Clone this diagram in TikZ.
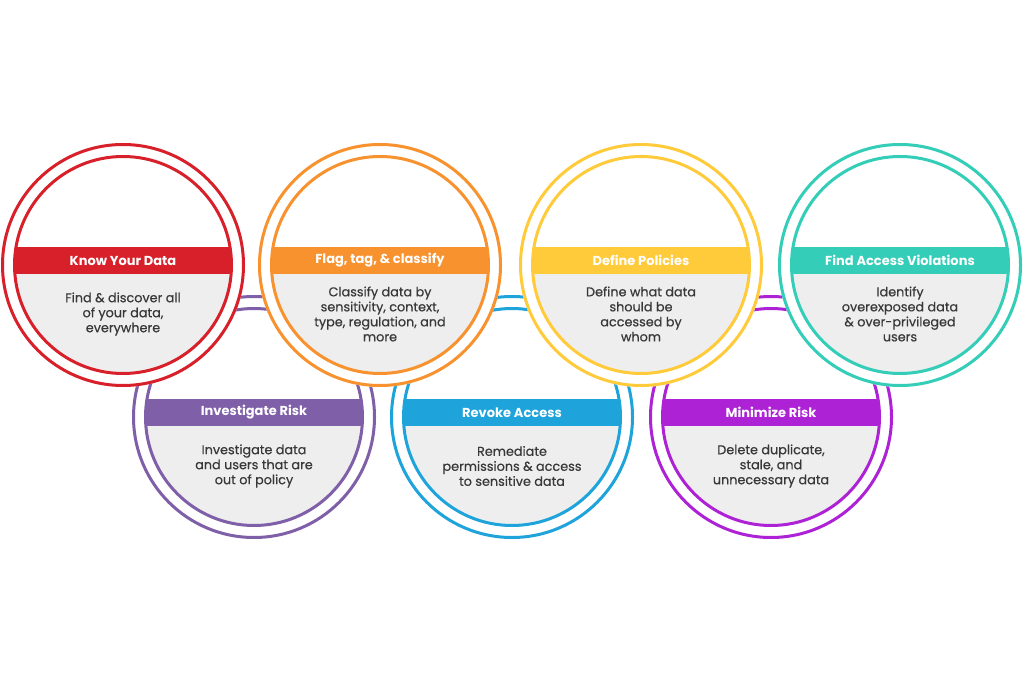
\documentclass[tikz,border=0pt]{standalone}
\usepackage{fontspec}
\setmainfont{Poppins}
\newfontfamily\bodyfont[FakeBold=0.5]{Poppins}
\usepackage{tikz}
\usetikzlibrary{positioning,calc}
\definecolor{knowred}{HTML}{D7202A}
\definecolor{flagorange}{HTML}{F7922F}
\definecolor{policyyellow}{HTML}{FFCB3A}
\definecolor{violteal}{HTML}{33CDB8}
\definecolor{riskpurple}{HTML}{7E5FA8}
\definecolor{revokeblue}{HTML}{1EA3DB}
\definecolor{minmagenta}{HTML}{AE22D6}
\definecolor{panelgray}{HTML}{EEEEEE}
\definecolor{textgray}{HTML}{383838}
\tikzset{
  ringline/.style={line width=3pt},
  bandtitle/.style={text=white,font=\fontsize{13}{15}\selectfont\bfseries},
  bodytext/.style={text=textgray,align=center,font=\fontsize{12.8}{15}\bodyfont},
}
% one stage: centre, colour, title, text
\newcommand{\stagering}[4]{%
  \fill[white] (#1) circle[radius=122pt];
  \draw[#2,ringline] (#1) circle[radius=120.5pt];
  \begin{scope}
    \clip (#1) circle[radius=108.5pt];
    \fill[panelgray] ($(#1)+(-115,9)$) rectangle ($(#1)+(115,115)$);
    \fill[#2] ($(#1)+(-115,-18)$) rectangle ($(#1)+(115,9)$);
  \end{scope}
  \draw[#2,ringline] (#1) circle[radius=108.5pt];
  \node[bandtitle] (#1-title) at ($(#1)+(0,-4.5)$) {#3};
  \node[bodytext] (#1-text) at ($(#1)+(0,49)$) {#4};
}

\begin{document}
\begin{tikzpicture}[x=1pt,y=-1pt]
\useasboundingbox (0,0) rectangle (1024,684);
\coordinate (know) at (123,265);
\coordinate (flag) at (380,265);
\coordinate (define) at (641,265);
\coordinate (find) at (900,265);
\coordinate (investigate) at (254,417);
\coordinate (revoke) at (512,417);
\coordinate (minimize) at (771,417);
% lower row first, the upper row covers it
\stagering{investigate}{riskpurple}{Investigate Risk}{Investigate data\\and users that are\\out of policy}
\stagering{revoke}{revokeblue}{Revoke Access}{Remediate\\permissions \& access\\to sensitive data}
\stagering{minimize}{minmagenta}{Minimize Risk}{Delete duplicate,\\stale, and\\unnecessary data}
\stagering{know}{knowred}{Know Your Data}{Find \& discover all\\of your data,\\everywhere}
\stagering{flag}{flagorange}{Flag, tag, \& classify}{Classify data by\\sensitivity, context,\\type, regulation, and\\more}
\stagering{define}{policyyellow}{Define Policies}{Define what data\\should be\\accessed by\\whom}
\stagering{find}{violteal}{Find Access Violations}{Identify\\overexposed data\\\& over-privileged\\users}
\end{tikzpicture}
\end{document}
